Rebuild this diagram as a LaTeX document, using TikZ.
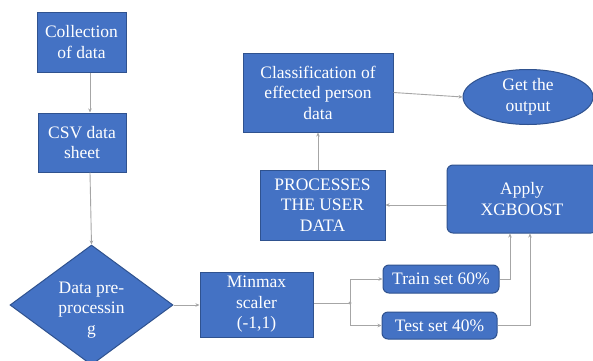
\documentclass[tikz,border=0pt]{standalone}
\usepackage{fontspec}
\setmainfont{Liberation Serif}
\usetikzlibrary{shapes.geometric,arrows.meta}
\definecolor{boxfill}{HTML}{4472C4}
\definecolor{boxline}{HTML}{2F528F}
\definecolor{wire}{HTML}{A6A6A6}
\tikzset{
  x=1pt, y=1pt,
  blk/.style={draw=boxline, line width=1pt, fill=boxfill, text=white,
    align=center, inner sep=1pt, font=\fontsize{17.5}{20.5}\selectfont},
  rblk/.style={blk, rounded corners=6pt},
  link/.style={draw=wire, line width=0.9pt, -{Stealth[length=4pt,width=3.5pt]}},
  wireonly/.style={draw=wire, line width=0.9pt},
}
\begin{document}
\begin{tikzpicture}
\useasboundingbox (0,0) rectangle (593,360);
\fill[white] (0,0) rectangle (593,360);
\begin{scope}
\clip (0,0) rectangle (593,360);
% left column
\node[blk, minimum width=89, minimum height=60] (coll) at (81.5,318) {Collection\\of data};
\node[blk, minimum width=88, minimum height=59] (csv) at (82,217.5) {CSV data\\sheet};
\node[blk, shape=diamond, minimum width=163, minimum height=120, inner sep=0pt] (prep) at (91.5,55) {};
\node[text=white, align=center, font=\fontsize{17.5}{20.5}\selectfont] (preptxt) at (91.5,50) {Data pre-\\processin\\g};
\coordinate (spine) at (90,0);
% lower row
\node[blk, minimum width=113, minimum height=65] (mm) at (256.5,55.5) {Minmax\\scaler\\(-1,1)};
\node[rblk, minimum width=116, minimum height=28] (train) at (441,81) {Train set 60\%};
\node[rblk, minimum width=115, minimum height=27] (test) at (439.5,34.5) {Test set 40\%};
\coordinate (split) at (350,57);
% upper right
\node[rblk, minimum width=150, minimum height=68] (xgb) at (522,161) {Apply\\XGBOOST};
\node[blk, minimum width=125, minimum height=70] (proc) at (322.5,155) {PROCESSES\\THE USER\\DATA};
\node[blk, minimum width=150, minimum height=79] (cls) at (318,267.5) {Classification of\\effected person\\data};
\node[blk, shape=ellipse, minimum width=130, minimum height=55, inner sep=0pt] (out) at (528,263) {Get the\\output};
% connectors
\draw[link] (spine |- coll.south) -- (spine |- csv.north);
\draw[link] (spine |- csv.south) -- (prep.north);
\draw[link] (prep.east) -- (mm.west |- prep.east);
\draw[wireonly] (mm.east |- split) -- (split);
\fill[wire] (split) circle (1.6);
\draw[link] (split) |- (train.west);
\draw[link] (split) |- (test.west);
\draw[link] (train.east) -| ([xshift=-12pt]xgb.south);
\draw[link] (test.east) -| ([xshift=8pt]xgb.south);
\draw[link] (xgb.west |- proc.east) -- (proc.east);
\draw[link] (proc.north -| cls.south) -- (cls.south);
\draw[link] (cls.east) -- (out.west);
\end{scope}
\end{tikzpicture}
\end{document}
